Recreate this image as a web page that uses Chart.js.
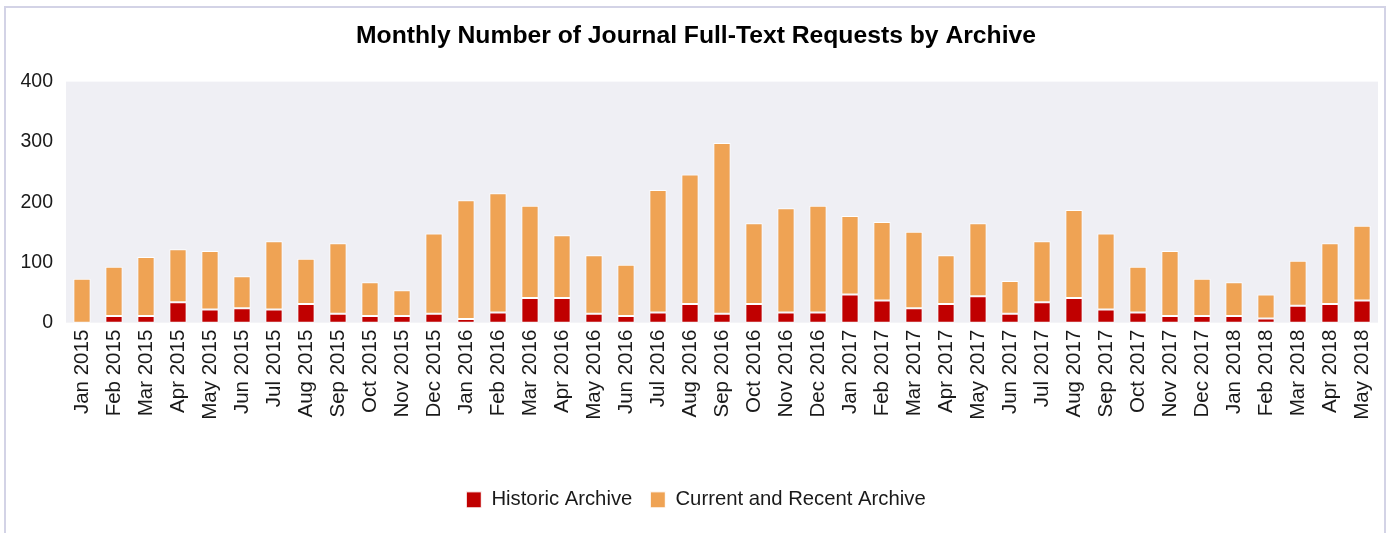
<!DOCTYPE html>
<html>
<head>
<meta charset="utf-8">
<script src="https://cdn.jsdelivr.net/npm/chart.js@4.4.1/dist/chart.umd.min.js"></script>
<style>
  html, body { margin: 0; padding: 0; background: #ffffff; }
  canvas { display: block; }
</style>
</head>
<body>
<canvas id="c" width="1387" height="533"></canvas>
<script>
const chartTitle = 'Monthly Number of Journal Full-Text Requests by Archive';
const months = [
  'Jan 2015','Feb 2015','Mar 2015','Apr 2015','May 2015','Jun 2015','Jul 2015','Aug 2015','Sep 2015','Oct 2015','Nov 2015','Dec 2015',
  'Jan 2016','Feb 2016','Mar 2016','Apr 2016','May 2016','Jun 2016','Jul 2016','Aug 2016','Sep 2016','Oct 2016','Nov 2016','Dec 2016',
  'Jan 2017','Feb 2017','Mar 2017','Apr 2017','May 2017','Jun 2017','Jul 2017','Aug 2017','Sep 2017','Oct 2017','Nov 2017','Dec 2017',
  'Jan 2018','Feb 2018','Mar 2018','Apr 2018','May 2018'
];
const historicArchive = [
  0, 11, 11, 34, 22, 24, 22, 31, 15, 11, 11, 15,
  6, 17, 41, 41, 15, 11, 17, 31, 15, 31, 17, 17,
  47, 37, 24, 31, 44, 15, 34, 41, 22, 17, 11, 11,
  11, 7, 28, 31, 37
];
const currentRecentArchive = [
  73, 82, 98, 88, 97, 53, 113, 75, 117, 56, 43, 133,
  197, 198, 153, 104, 97, 85, 203, 215, 283, 134, 173, 177,
  130, 130, 127, 81, 121, 54, 101, 146, 126, 76, 108, 62,
  56, 40, 75, 101, 124
];
const yTicks = [0, 100, 200, 300, 400];
const seriesNames = ['Historic Archive', 'Current and Recent Archive'];

const FONT = 'Liberation Sans, Arial, Helvetica, sans-serif';

const framePlugin = {
  id: 'frame',
  beforeDraw(chart) {
    const ctx = chart.ctx;
    const a = chart.chartArea;
    ctx.save();
    ctx.fillStyle = '#ffffff';
    ctx.fillRect(0, 0, chart.width, chart.height);
    ctx.fillStyle = '#efeff4';
    ctx.fillRect(a.left, a.top, a.right - a.left, a.bottom - a.top);
    ctx.strokeStyle = '#d3d3e6';
    ctx.lineWidth = 2;
    ctx.beginPath();
    ctx.moveTo(5, chart.height + 2);
    ctx.lineTo(5, 7);
    ctx.lineTo(1385, 7);
    ctx.lineTo(1385, chart.height + 2);
    ctx.stroke();
    ctx.restore();
  }
};

new Chart(document.getElementById('c'), {
  type: 'bar',
  data: {
    labels: months,
    datasets: [
      {
        label: seriesNames[0],
        data: historicArchive,
        backgroundColor: '#c00000',
        borderColor: '#ffffff',
        borderWidth: 1,
        borderSkipped: false,
        barPercentage: 0.54,
        categoryPercentage: 1.0
      },
      {
        label: seriesNames[1],
        data: currentRecentArchive,
        backgroundColor: '#efa354',
        borderColor: '#ffffff',
        borderWidth: 1,
        borderSkipped: false,
        barPercentage: 0.54,
        categoryPercentage: 1.0
      }
    ]
  },
  options: {
    responsive: false,
    animation: false,
    layout: { padding: { left: 14, right: 9, top: 0, bottom: 13 } },
    plugins: {
      title: {
        display: true,
        text: chartTitle,
        color: '#000000',
        font: { family: FONT, size: 24.7, weight: 'bold' },
        padding: { top: 21, bottom: 31 }
      },
      legend: {
        display: true,
        position: 'bottom',
        labels: {
          color: '#1a1a1a',
          font: { family: FONT, size: 20.3 },
          boxWidth: 15,
          boxHeight: 16,
          padding: 18
        }
      },
      tooltip: { enabled: false }
    },
    scales: {
      x: {
        stacked: true,
        grid: { display: false, drawTicks: false },
        border: { display: false },
        ticks: {
          autoSkip: false,
          maxRotation: 90,
          minRotation: 90,
          padding: 7,
          color: '#1a1a1a',
          font: { family: FONT, size: 20.5 }
        },
        afterFit(scale) {
          scale.height = 149;
          scale.paddingLeft = 0;
          scale.paddingRight = 0;
        }
      },
      y: {
        stacked: true,
        min: 0,
        max: 400,
        grid: { display: false, drawTicks: false },
        border: { display: false },
        afterBuildTicks(scale) { scale.ticks = yTicks.map(v => ({ value: v })); },
        ticks: {
          padding: 13,
          color: '#1a1a1a',
          font: { family: FONT, size: 19.5 }
        },
        afterFit(scale) { scale.width = 52; }
      }
    }
  },
  plugins: [framePlugin]
});
</script>
</body>
</html>
